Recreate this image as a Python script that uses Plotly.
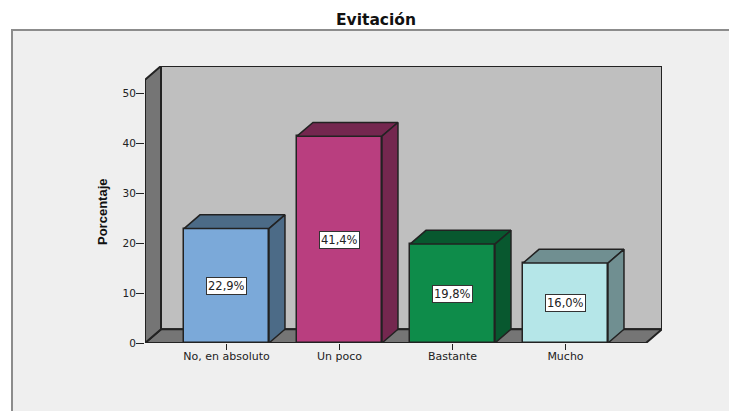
import plotly.graph_objects as go

categories = ["No, en absoluto", "Un poco", "Bastante", "Mucho"]
values = [22.9, 41.4, 19.8, 16.0]
front_colors = ["#7ba9d9", "#b93e7f", "#0e8c4a", "#b5e6e8"]
shade_colors = ["#4c6b87", "#74274f", "#08582f", "#708f91"]
y_ticks = [0, 10, 20, 30, 40, 50]

EDGE = "#222222"
BAR_WIDTH = 0.752
DEPTH_X = 0.1416
DEPTH_Y = 2.75
X_MIN = -0.721
X_MAX = 3.854
Y_TOP = 52.7
positions = list(range(len(categories)))


def polygon(xs, ys, fill, edge=EDGE, width=2):
    return dict(type="path", xref="x", yref="y", layer="below",
                path="M" + " L".join(f"{x},{y}" for x, y in zip(xs, ys)) + " Z",
                fillcolor=fill, line=dict(color=edge, width=width))


fig = go.Figure()

# Front faces of the columns
fig.add_bar(x=positions, y=values, width=BAR_WIDTH,
            marker=dict(color=front_colors, line=dict(color=EDGE, width=1.5)),
            hoverinfo="skip")

# Top and side faces, offset by the extrusion depth
for pos, val, shade in zip(positions, values, shade_colors):
    left, right = pos - BAR_WIDTH / 2, pos + BAR_WIDTH / 2
    fig.add_scatter(x=[left, left + DEPTH_X, right + DEPTH_X, right, left],
                    y=[val, val + DEPTH_Y, val + DEPTH_Y, val, val],
                    mode="lines", fill="toself", fillcolor=shade,
                    line=dict(color=EDGE, width=1.5), hoverinfo="skip")
    fig.add_scatter(x=[right, right + DEPTH_X, right + DEPTH_X, right, right],
                    y=[val, val + DEPTH_Y, DEPTH_Y, 0, val],
                    mode="lines", fill="toself", fillcolor=shade,
                    line=dict(color=EDGE, width=1.5), hoverinfo="skip")

# Value labels in the middle of each column
annotations = [
    dict(x=pos, y=val / 2, xref="x", yref="y", showarrow=False,
         text=f"{val:.1f}%".replace(".", ","),
         font=dict(family="DejaVu Sans", size=11.5, color="#222222"),
         bgcolor="white", bordercolor="#333333", borderwidth=1, borderpad=1)
    for pos, val in zip(positions, values)
]

# Vertical axis title
annotations.append(
    dict(x=(103 - 145) / 517, y=(343 - 212) / 277, xref="paper", yref="paper",
         xanchor="center", yanchor="middle", showarrow=False, textangle=-90,
         text="<b>Porcentaje</b>",
         font=dict(family="Liberation Sans", size=13, color="#111111"))
)

shapes = [
    # Chart frame running off the right and bottom of the page
    dict(type="rect", xref="paper", yref="paper", layer="below",
         x0=-133 / 517, x1=1.2, y0=-0.4, y1=(343 - 30) / 277,
         fillcolor="#efefef", line=dict(color="#8c8c8c", width=2)),
    # Back wall, floor and left wall of the 3D box
    polygon([X_MIN + DEPTH_X, X_MAX, X_MAX, X_MIN + DEPTH_X],
            [DEPTH_Y, DEPTH_Y, Y_TOP + DEPTH_Y, Y_TOP + DEPTH_Y], "#bfbfbf"),
    polygon([X_MIN, X_MIN + DEPTH_X, X_MAX, X_MAX - DEPTH_X],
            [0, DEPTH_Y, DEPTH_Y, 0], "#757575"),
    polygon([X_MIN, X_MIN + DEPTH_X, X_MIN + DEPTH_X, X_MIN],
            [0, DEPTH_Y, Y_TOP + DEPTH_Y, Y_TOP], "#757575"),
]

fig.update_layout(
    width=729, height=411,
    margin=dict(l=145, r=67, t=66, b=68),
    paper_bgcolor="white", plot_bgcolor="rgba(0,0,0,0)",
    showlegend=False, bargap=0,
    font=dict(family="DejaVu Sans", color="#222222"),
    title=dict(text="<b>Evitación</b>", x=376 / 729, xanchor="center",
               y=1 - 20 / 411, yanchor="middle",
               font=dict(family="DejaVu Sans", size=15.5, color="#111111")),
    shapes=shapes, annotations=annotations,
    xaxis=dict(range=[X_MIN, X_MAX], tickvals=positions, ticktext=categories,
               ticks="outside", ticklen=6, tickcolor="#222222", tickwidth=1,
               ticklabelstandoff=-3,
               showgrid=False, zeroline=False, showline=False,
               tickfont=dict(size=11, family="DejaVu Sans", color="#222222")),
    yaxis=dict(range=[0, Y_TOP + DEPTH_Y], tickvals=y_ticks,
               ticks="outside", ticklen=8, tickcolor="#222222", tickwidth=1,
               ticklabelstandoff=-2,
               showgrid=False, zeroline=False, showline=False,
               tickfont=dict(size=10.5, family="DejaVu Sans", color="#222222")),
)

fig.write_html("out.html", config=dict(displayModeBar=False))
